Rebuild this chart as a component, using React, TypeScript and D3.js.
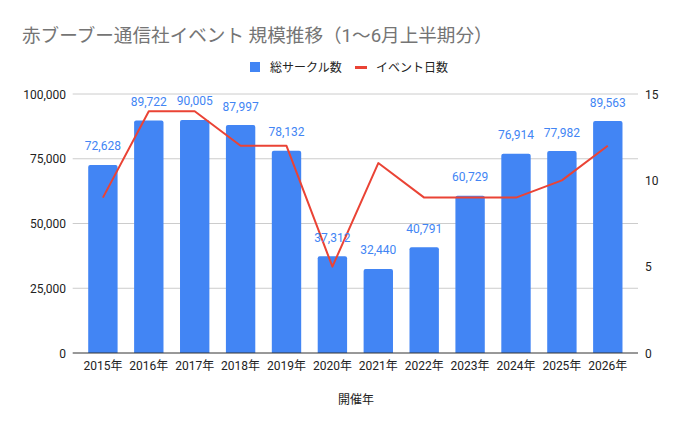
import React from "react";
import * as d3 from "d3";

const years = ["2015年","2016年","2017年","2018年","2019年","2020年","2021年","2022年","2023年","2024年","2025年","2026年"];
const circles = [72628, 89722, 90005, 87997, 78132, 37312, 32440, 40791, 60729, 76914, 77982, 89563];
const days = [9, 14, 14, 12, 12, 5, 11, 9, 9, 9, 10, 12];
const leftTicks = [0, 25000, 50000, 75000, 100000];
const rightTicks = [0, 5, 10, 15];
const title = "赤ブーブー通信社イベント 規模推移（1〜6月上半期分）";
const seriesNames = ["総サークル数", "イベント日数"];
const xTitle = "開催年";

const W = 687, H = 427;
const L = 72.7, R = 638, T = 94, B = 353;
const FONT = "Roboto, 'Noto Sans CJK JP', 'Noto Sans', sans-serif";
const BLUE = "#4285F4";
const RED = "#EA4335";

export default function App() {
  const x = d3.scaleBand<string>().domain(years).range([L, R]).paddingInner(0.36).paddingOuter(0.338);
  const yL = d3.scaleLinear().domain([0, 100000]).range([B, T]);
  const yR = d3.scaleLinear().domain([0, 15]).range([B, T]);
  const fmt = d3.format(",");
  const line = d3.line<number>().x((_, i) => (x(years[i]) as number) + x.bandwidth() / 2).y((d) => yR(d));
  const bw = x.bandwidth();
  const r = 2;
  const barPath = (x0: number, y0: number, w: number, h: number) =>
    `M${x0},${y0 + h}V${y0 + r}Q${x0},${y0} ${x0 + r},${y0}H${x0 + w - r}Q${x0 + w},${y0} ${x0 + w},${y0 + r}V${y0 + h}Z`;

  return (
    <svg width={W} height={H} style={{ position: "absolute", left: 0, top: 0, background: "#fff" }} fontFamily={FONT}>
      <rect width={W} height={H} fill="#fff" />
      <text x={22} y={42} fontSize={18.6} fill="#757575">{title}</text>
      {/* legend */}
      <rect x={250} y={62} width={10} height={10} fill={BLUE} />
      <text x={270} y={71.5} fontSize={12} fill="#222">{seriesNames[0]}</text>
      <rect x={355} y={66} width={12} height={3} fill={RED} />
      <text x={376} y={71.5} fontSize={12} fill="#222">{seriesNames[1]}</text>
      {/* grid */}
      {leftTicks.map((t) => (
        <g key={t}>
          {t > 0 && <line x1={L} x2={R} y1={yL(t)} y2={yL(t)} stroke="#ccc" strokeWidth={1} />}
          <text x={66} y={yL(t) + 4.5} fontSize={12} fill="#222" textAnchor="end">{fmt(t)}</text>
        </g>
      ))}
      {rightTicks.map((t) => (
        <text key={t} x={645} y={yR(t) + 4.5} fontSize={12} fill="#222">{t}</text>
      ))}
      {/* bars */}
      {circles.map((v, i) => {
        const x0 = x(years[i]) as number;
        const y0 = yL(v);
        return <path key={i} d={barPath(x0, y0, bw, B - y0)} fill={BLUE} />;
      })}
      <line x1={L} x2={R} y1={B} y2={B} stroke="#333" strokeWidth={1} />
      {/* line */}
      <path d={line(days) || ""} fill="none" stroke={RED} strokeWidth={2} strokeLinejoin="round" />
      {/* data labels */}
      {circles.map((v, i) => (
        <text key={i} x={(x(years[i]) as number) + bw / 2} y={yL(v) - 14.5} fontSize={12} fill={BLUE} textAnchor="middle">{fmt(v)}</text>
      ))}
      {/* x labels */}
      {years.map((y) => (
        <text key={y} x={(x(y) as number) + bw / 2} y={370} fontSize={12} fill="#222" textAnchor="middle">{y}</text>
      ))}
      <text x={356} y={403.5} fontSize={12} fill="#222" textAnchor="middle">{xTitle}</text>
    </svg>
  );
}
